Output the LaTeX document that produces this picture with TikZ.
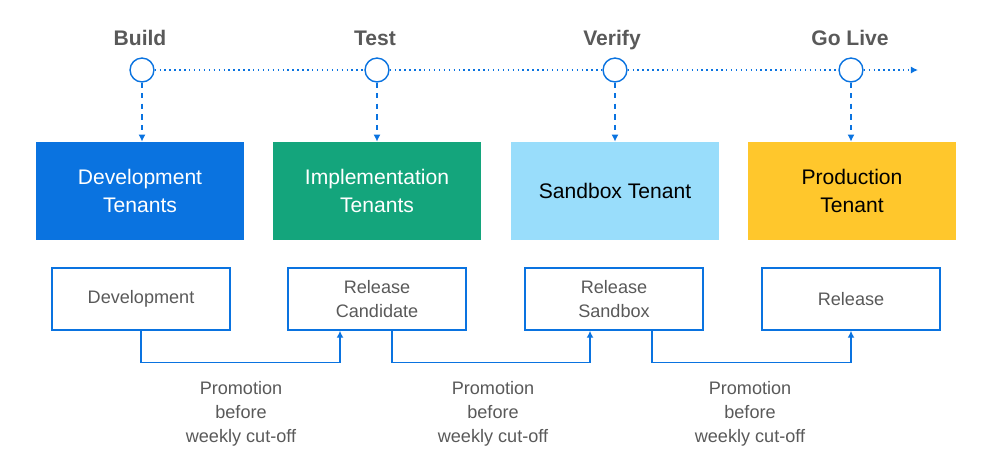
\documentclass[tikz,border=0pt]{standalone}
\usepackage{fontspec}
\setmainfont{Liberation Sans}
\usetikzlibrary{arrows.meta}
\definecolor{devblue}{HTML}{0A73E0}
\definecolor{impgreen}{HTML}{14A57C}
\definecolor{sandblue}{HTML}{99DDFB}
\definecolor{prodyellow}{HTML}{FFC72C}
\definecolor{txtgray}{HTML}{595959}
\tikzset{
  stage/.style={font=\bfseries\fontsize{12}{13}\selectfont, text=txtgray, text depth=0pt, anchor=base},
  milestone/.style={circle, draw=devblue, thick, fill=white, minimum size=13.6pt, inner sep=0pt},
  tenant/.style={minimum width=4.16cm, minimum height=1.96cm, align=center, inner sep=0pt,
    font=\fontsize{12}{15.5}\selectfont},
  branch/.style={draw=devblue, thick, minimum width=3.56cm, minimum height=1.24cm, align=center,
    inner sep=0pt, text=txtgray, font=\fontsize{10.3}{13.3}\selectfont},
  promo/.style={align=center, text=txtgray, font=\fontsize{10.3}{13.6}\selectfont},
  link/.style={devblue, thick, -{Latex[length=4pt,width=4pt]}},
}
\begin{document}
\begin{tikzpicture}[x=0.02cm, y=-0.02cm]
  \useasboundingbox (0,0) rectangle (1000,458);
  %--- Stages
  \node[stage] (lbuild) at (140,45) {Build};
  \node[stage] (ltest) at (375,45) {Test};
  \node[stage] (lverify) at (612,45) {Verify};
  \node[stage] (llive) at (850,45) {Go Live};
  \coordinate (tend) at (918,70);
  \node[milestone] (mbuild) at (142,70) {};
  \node[milestone] (mtest) at (377,70) {};
  \node[milestone] (mverify) at (615,70) {};
  \node[milestone] (mlive) at (851,70) {};
  \draw[devblue, thick, dotted] (mbuild) -- (mtest);
  \draw[devblue, thick, dotted] (mtest) -- (mverify);
  \draw[devblue, thick, dotted] (mverify) -- (mlive);
  \draw[devblue, thick, dotted, -{Latex[length=4pt,width=4pt]}] (mlive) -- (tend);
  %--- Tenants
  \node[tenant, fill=devblue, text=white] (tdev) at (140,191) {Development\\Tenants};
  \node[tenant, fill=impgreen, text=white] (timp) at (377,191) {Implementation\\Tenants};
  \node[tenant, fill=sandblue] (tsand) at (615,191) {Sandbox Tenant};
  \node[tenant, fill=prodyellow] (tprod) at (852,191) {Production\\Tenant};
  \foreach \m/\t in {mbuild/tdev, mtest/timp, mverify/tsand, mlive/tprod}
    \draw[link, dashed] (\m) -- (\m |- \t.north);
  %--- Branches
  \node[branch] (bdev) at (141,299) {Development};
  \node[branch] (brc) at (377,299) {Release\\Candidate};
  \node[branch] (bsand) at (614,299) {Release\\Sandbox};
  \node[branch] (brel) at (851,299) {Release};
  \draw[link] (bdev.south) -- ++(0,32) -| ([xshift=-0.74cm]brc.south);
  \draw[link] ([xshift=0.3cm]brc.south) -- ++(0,32) -| ([xshift=-0.48cm]bsand.south);
  \draw[link] ([xshift=0.76cm]bsand.south) -- ++(0,32) -| (brel.south);
  %--- Promotions
  \node[promo] (pone) at (241,414) {Promotion\\before\\weekly cut-off};
  \node[promo] (ptwo) at (493,414) {Promotion\\before\\weekly cut-off};
  \node[promo] (pthree) at (750,414) {Promotion\\before\\weekly cut-off};
\end{tikzpicture}
\end{document}
